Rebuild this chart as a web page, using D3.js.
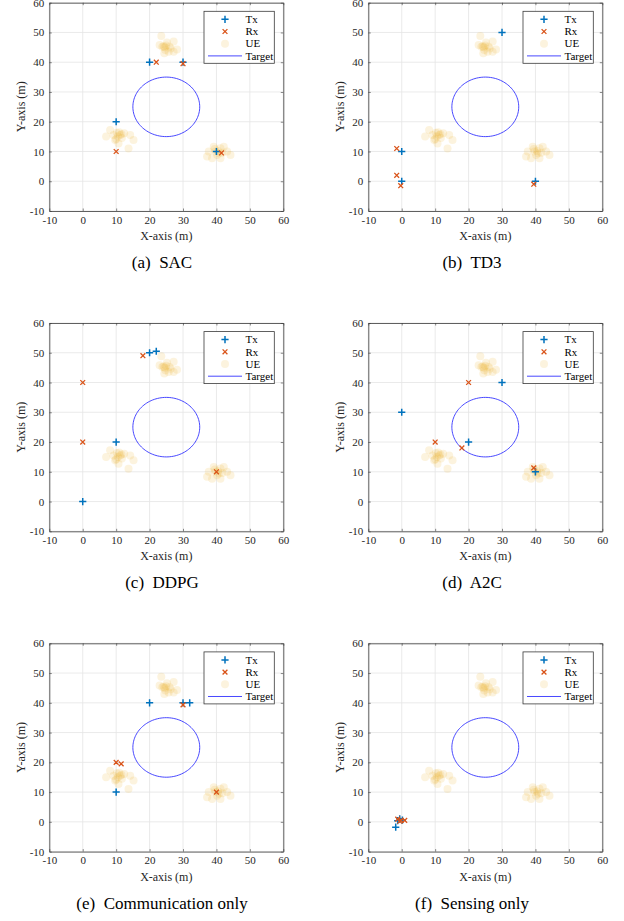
<!DOCTYPE html>
<html>
  <head>
    <meta charset="utf-8" />
    <title>Tx / Rx placement</title>
    <script src="https://d3js.org/d3.v7.min.js"></script>
    <style>
      body { margin: 0; background: #fff; }
      text { font-family: 'Liberation Serif', 'Times New Roman', serif; }
    </style>
  </head>
  <body>
    <script>
      // captions of the six sub-figures
      var captions = ['(a)  SAC', '(b)  TD3', '(c)  DDPG', '(d)  A2C', '(e)  Communication only', '(f)  Sensing only'];

      // Tx / Rx positions per sub-figure (m)
      var txSAC = [[10, 20], [20, 40], [30, 40], [40, 10]];
      var rxSAC = [[10, 10], [22, 40], [30, 39.5], [41.5, 9.5]];
      var txTD3 = [[30, 50], [0, 10], [0, 0], [40, 0]];
      var rxTD3 = [[-1.5, 11], [-1.5, 2], [-0.3, -1.5], [39.5, -1]];
      var txDDPG = [[20, 50], [22, 50.5], [10, 20], [0, 0]];
      var rxDDPG = [[18, 49], [0, 40], [0, 20], [40, 10]];
      var txA2C = [[0, 30], [30, 40], [20, 20], [40, 10]];
      var rxA2C = [[20, 40], [10, 20], [18, 18], [39.5, 11.3]];
      var txComm = [[20, 40], [30, 40], [32, 40], [10, 10]];
      var rxComm = [[30, 39.3], [10, 20], [11.5, 19.5], [40, 10]];
      var txSens = [[-1.8, -1.8], [-0.6, 1.0], [-1.2, 0.4], [0.2, 0.6]];
      var rxSens = [[-1.2, 0.9], [-0.2, 0.5], [0.9, 0.5], [-0.6, 0.2]];

      var txSets = [txSAC, txTD3, txDDPG, txA2C, txComm, txSens];
      var rxSets = [rxSAC, rxTD3, rxDDPG, rxA2C, rxComm, rxSens];

      // user equipment, same in every sub-figure
      var ueX = [23.5, 23, 24.2, 25.2, 27.2, 26, 28.2, 24.7, 24.4, 27.2, 25.7, 24.5, 23.8, 26.3, 25,
                 8.2, 7, 10.2, 11.2, 12.4, 9.7, 10.7, 14.2, 15.2, 13.7, 11.7, 9.2, 10.5, 10.9, 11.6, 10,
                 39.2, 37.7, 41.2, 42.2, 40.2, 38.7, 41.2, 44.2, 43.2, 39.7, 37.2, 40.7, 39.5, 41.8, 40.5];
      var ueY = [48.8, 45.8, 45.4, 46.6, 47, 45.2, 44.3, 44.1, 43, 43.5, 43.5, 45, 45.2, 44.6, 45.6,
                 17.2, 15, 16.3, 15.5, 16.1, 13.9, 12.7, 15.5, 13.9, 11, 14.5, 15.5, 15, 16.5, 15.8, 14.2,
                 11.6, 10, 11.1, 11.6, 8.8, 7.7, 7.7, 8.8, 10, 10, 8.3, 9.4, 10.8, 9.6, 10.2];

      // sensing target: circle
      var targetCenter = [25, 25];
      var targetRadius = 10;

      var ticks = [-10, 0, 10, 20, 30, 40, 50, 60];

      var cTx = '#0072BD', cRx = '#D95319', cUE = '#EDB120', cTarget = '#3333ff';
      var serif = "'Liberation Serif', 'Times New Roman', serif";
      var W = 624, H = 921;
      var pw = 234, ph = 208.3;

      var svg = d3.select('body').append('svg').attr('width', W).attr('height', H);
      svg.append('rect').attr('width', W).attr('height', H).attr('fill', '#fff');

      var targetPts = d3.range(0, 361, 3).map(function (a) {
        var t = (a * Math.PI) / 180;
        return [targetCenter[0] + targetRadius * Math.cos(t), targetCenter[1] + targetRadius * Math.sin(t)];
      });

      captions.forEach(function (cap, i) {
        var col = i % 2, row = Math.floor(i / 2);
        var left = 49.3 + col * 319, top = 2.7 + row * 320.3;
        var g = svg.append('g').attr('transform', 'translate(' + left + ',' + top + ')');

        var x = d3.scaleLinear().domain([-10, 60]).range([0, pw]);
        var y = d3.scaleLinear().domain([-10, 60]).range([ph, 0]);

        // grid
        g.append('g')
          .selectAll('line')
          .data(ticks)
          .enter()
          .append('line')
          .attr('x1', (d) => x(d)).attr('x2', (d) => x(d))
          .attr('y1', 0).attr('y2', ph)
          .attr('stroke', '#e5e5e5').attr('stroke-width', 0.8);
        g.append('g')
          .selectAll('line')
          .data(ticks)
          .enter()
          .append('line')
          .attr('y1', (d) => y(d)).attr('y2', (d) => y(d))
          .attr('x1', 0).attr('x2', pw)
          .attr('stroke', '#e5e5e5').attr('stroke-width', 0.8);

        // axes, inward ticks like MATLAB
        var fmt = (d) => String(d);
        var axB = g.append('g').attr('transform', 'translate(0,' + ph + ')')
          .call(d3.axisBottom(x).tickValues(ticks).tickFormat(fmt).tickSizeInner(-2.5).tickSizeOuter(0).tickPadding(5));
        var axL = g.append('g')
          .call(d3.axisLeft(y).tickValues(ticks).tickFormat(fmt).tickSizeInner(-2.5).tickSizeOuter(0).tickPadding(5));
        var axT = g.append('g')
          .call(d3.axisTop(x).tickValues(ticks).tickSizeInner(-2.5).tickSizeOuter(0).tickFormat(''));
        var axR = g.append('g').attr('transform', 'translate(' + pw + ',0)')
          .call(d3.axisRight(y).tickValues(ticks).tickSizeInner(-2.5).tickSizeOuter(0).tickFormat(''));
        [axB, axL, axT, axR].forEach(function (a) {
          a.select('.domain').attr('stroke', '#3a3a3a').attr('stroke-width', 0.8);
          a.selectAll('.tick line').attr('stroke', '#3a3a3a').attr('stroke-width', 0.6);
          a.selectAll('.tick text')
            .attr('fill', '#262626')
            .attr('font-family', serif)
            .attr('font-size', 11);
        });

        // UE
        g.append('g')
          .selectAll('circle')
          .data(ueX)
          .enter()
          .append('circle')
          .attr('cx', (d) => x(d))
          .attr('cy', (d, k) => y(ueY[k]))
          .attr('r', 4)
          .attr('fill', cUE)
          .attr('fill-opacity', 0.15);

        // target
        g.append('path')
          .attr('d', d3.line().x((d) => x(d[0])).y((d) => y(d[1]))(targetPts))
          .attr('fill', 'none')
          .attr('stroke', cTarget)
          .attr('stroke-width', 0.9);

        // Tx +
        g.append('g')
          .selectAll('path')
          .data(txSets[i])
          .enter()
          .append('path')
          .attr('transform', (d) => 'translate(' + x(d[0]) + ',' + y(d[1]) + ')')
          .attr('d', 'M-3.6,0H3.6M0,-3.6V3.6')
          .attr('stroke', cTx)
          .attr('stroke-width', 1.5);

        // Rx x
        g.append('g')
          .selectAll('path')
          .data(rxSets[i])
          .enter()
          .append('path')
          .attr('transform', (d) => 'translate(' + x(d[0]) + ',' + y(d[1]) + ')')
          .attr('d', 'M-2.4,-2.4L2.4,2.4M-2.4,2.4L2.4,-2.4')
          .attr('stroke', cRx)
          .attr('stroke-width', 1.3);

        // axis labels
        g.append('text')
          .attr('x', pw / 2)
          .attr('y', ph + 29)
          .attr('text-anchor', 'middle')
          .attr('fill', '#262626')
          .attr('font-family', serif)
          .attr('font-size', 12)
          .text('X-axis (m)');
        g.append('text')
          .attr('transform', 'translate(-24,' + ph / 2 + ') rotate(-90)')
          .attr('text-anchor', 'middle')
          .attr('fill', '#262626')
          .attr('font-family', serif)
          .attr('font-size', 12)
          .text('Y-axis (m)');

        // legend
        var lg = g.append('g').attr('transform', 'translate(' + (pw - 79.3) + ',8.6)');
        lg.append('rect')
          .attr('width', 70.3).attr('height', 52)
          .attr('fill', '#fff').attr('stroke', '#3a3a3a').attr('stroke-width', 0.8);
        var names = ['Tx', 'Rx', 'UE', 'Target'];
        names.forEach(function (n, k) {
          var yy = 8 + k * 12.2;
          var sx = 21;
          if (n === 'Tx') {
            lg.append('path').attr('transform', 'translate(' + sx + ',' + yy + ')')
              .attr('d', 'M-3.6,0H3.6M0,-3.6V3.6').attr('stroke', cTx).attr('stroke-width', 1.5);
          } else if (n === 'Rx') {
            lg.append('path').attr('transform', 'translate(' + sx + ',' + yy + ')')
              .attr('d', 'M-2.4,-2.4L2.4,2.4M-2.4,2.4L2.4,-2.4').attr('stroke', cRx).attr('stroke-width', 1.3);
          } else if (n === 'UE') {
            lg.append('circle').attr('cx', sx).attr('cy', yy).attr('r', 4)
              .attr('fill', cUE).attr('fill-opacity', 0.15);
          } else {
            lg.append('line').attr('x1', 4).attr('x2', 38).attr('y1', yy).attr('y2', yy)
              .attr('stroke', cTarget).attr('stroke-width', 0.9);
          }
          lg.append('text')
            .attr('x', 41.5)
            .attr('y', yy + 3.8)
            .attr('fill', '#000')
            .attr('font-family', serif)
            .attr('font-size', 11)
            .text(n);
        });

        // caption
        svg.append('text')
          .attr('x', 162 + col * 310)
          .attr('y', 268 + row * 320.3)
          .attr('text-anchor', 'middle')
          .attr('fill', '#000')
          .attr('font-family', serif)
          .attr('font-size', 17)
          .attr('xml:space', 'preserve')
          .style('white-space', 'pre')
          .text(cap);
      });
    </script>
  </body>
</html>
